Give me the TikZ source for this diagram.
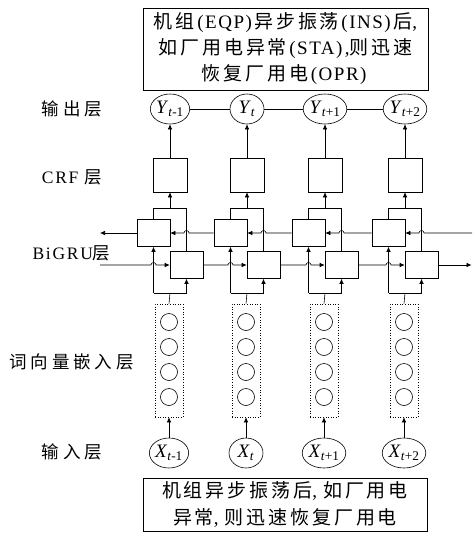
\documentclass[tikz,border=0pt]{standalone}
\usepackage{fontspec}
\setmainfont{Liberation Serif}
\newfontfamily\cjk[LetterSpace=15]{Noto Sans CJK SC}
\newfontfamily\cjkl[LetterSpace=22]{Noto Sans CJK SC}
\newfontfamily\lsp[LetterSpace=8]{Liberation Serif}
\newfontfamily\lspl[LetterSpace=10]{Liberation Serif}
\newcommand\myLp{\kern2.5pt(\kern1.5pt}
\newcommand\myRp{\kern1.5pt)\kern2.5pt}
\usetikzlibrary{arrows.meta,shapes.geometric}
\begin{document}
\begin{tikzpicture}[x=1pt,y=-1pt,
  line width=0.6pt,
  arr/.style={-{Latex[length=5pt,width=4.5pt]}},
  cell/.style={draw,rectangle,minimum width=33pt,minimum height=27pt,inner sep=0pt},
  crfbox/.style={draw,rectangle,minimum width=34pt,minimum height=34pt,inner sep=0pt},
  var/.style={draw,ellipse,minimum width=34pt,minimum height=30pt,inner sep=0pt,font=\fontsize{19}{19}\selectfont},
  emb/.style={draw,circle,minimum size=17pt,inner sep=0pt},
  embbox/.style={draw,dotted,rectangle,minimum width=28pt,minimum height=113pt,inner sep=0pt},
  lab/.style={font=\fontsize{17.5}{17.5}\selectfont\lspl},
  txtbox/.style={draw,rectangle,inner sep=0pt,align=center,font=\fontsize{19}{26}\selectfont\lsp}
]
\useasboundingbox (0,0) rectangle (472,533);

\node[txtbox,minimum width=285pt,minimum height=82pt] (top) at (285.5,49)
 {{\cjk 机组}\myLp EQP\myRp{\cjk 异步振荡}\myLp INS\myRp{\cjk 后}, \\
  {\cjk 如厂用电异常}\myLp STA\myRp,{\cjk 则迅速}\\
  {\cjk 恢复厂用电}\myLp OPR\myRp};

\node[txtbox,minimum width=284pt,minimum height=53pt,font=\fontsize{19}{27}\selectfont\lsp] (bot) at (285,504.5)
 {{\cjk 机组异步振荡后}, {\cjk 如厂用电}\\{\cjk 异常}, {\cjk 则迅速恢复厂用电}};

\node[lab] (l1) at (72,109) {{\cjkl 输出层}};
\node[lab] (l2) at (72,177) {CRF {\cjkl 层}};
\node[lab] (l3) at (71.5,253) {BiGRU{\cjkl 层}};
\node[lab] (l4) at (71.5,362) {{\cjkl 词向量嵌入层}};
\node[lab] (l5) at (72,452) {{\cjkl 输入层}};

\foreach \c/\s [count=\i] in {170/{-1},247/{},325/{+1},405/{+2}} {
  \node[var] (Y\i) at (\c,109) {\textit{Y}\textsubscript{\textit{t}\s}};
  \node[crfbox] (C\i) at (\c,175) {};
  \node[cell] (Bb\i) at (\c-16.5,233) {};
  \node[cell] (Bf\i) at (\c+16.5,265) {};
  \node[embbox] (E\i) at (\c-1,360.5) {};
  \foreach \yy [count=\k] in {322,347,372,397}
    \node[emb] (e\i\k) at (\c-1,\yy) {};
  \node[var] (X\i) at (\c-1,453) {\textit{X}\textsubscript{\textit{t}\s}};
  \coordinate (ua\i) at (\c-16.5,208);
  \coordinate (um\i) at (\c,208);
  \coordinate (ub\i) at (\c+16.5,208);
  \coordinate (la\i) at (\c-16.5,293);
  \coordinate (lm\i) at (\c,293);
  \coordinate (lb\i) at (\c+16.5,293);
  \draw (Bb\i.north) -- (ua\i) -- (ub\i) -- (Bf\i.north);
  \draw[arr] (um\i) -- (C\i.south);
  \draw[arr] (C\i.north) -- (Y\i.south);
  \draw (la\i) -- (lb\i);
  \draw[arr] (la\i) -- (Bb\i.south);
  \draw[arr] (lb\i) -- (Bf\i.south);
  \draw (E\i.north) -- (lm\i);
  \draw[arr] (X\i.north) -- (E\i.south);
}

\foreach \i/\j/\ci/\cj in {1/2/170/247,2/3/247/325,3/4/325/405} {
  \draw (Y\i) -- (Y\j);
  \draw[arr] (Bb\j.west) -- (\ci+19,233) arc (0:-180:2.5) -- (Bb\i.east);
  \draw[arr] (Bf\i.east) -- (\cj-19,265) arc (180:360:2.5) -- (Bf\j.west);
}

\coordinate (bl) at (100,233);
\coordinate (fl) at (100,265);
\coordinate (br) at (472,233);
\coordinate (fr) at (471.5,265);
\draw[arr] (Bb1.west) -- (bl);
\draw[arr] (fl) -- (170-19,265) arc (180:360:2.5) -- (Bf1.west);
\draw[arr] (br) -- (405+19,233) arc (0:-180:2.5) -- (Bb4.east);
\draw[arr] (Bf4.east) -- (fr);
\end{tikzpicture}
\end{document}
